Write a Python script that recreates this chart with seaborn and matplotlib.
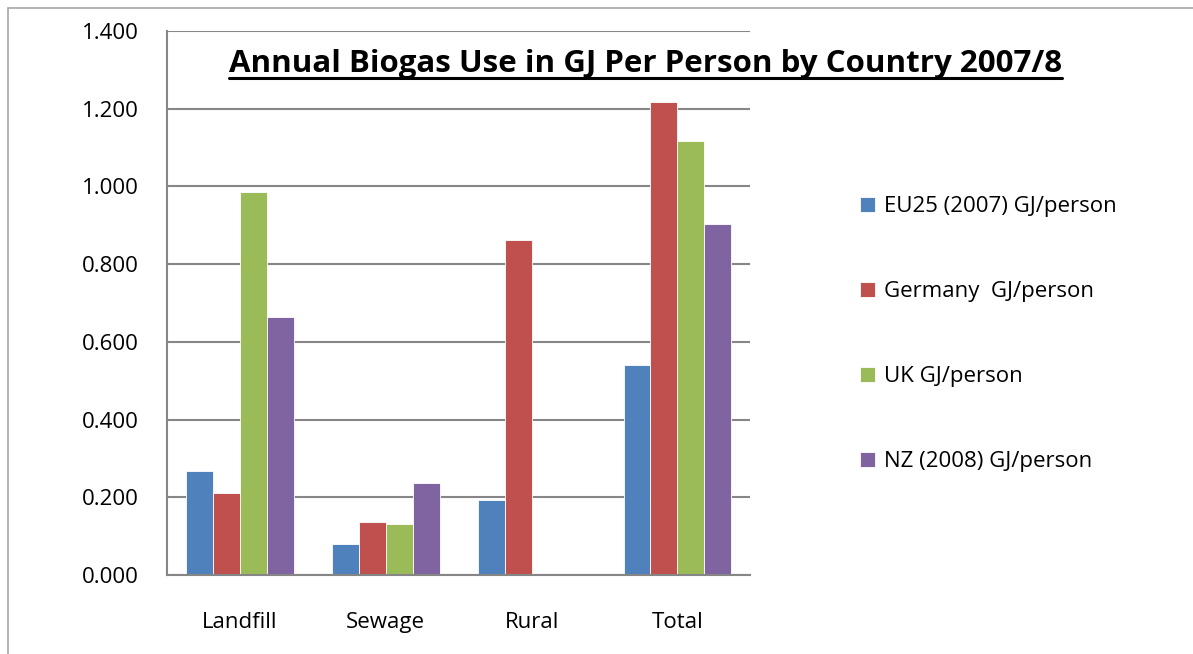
import pandas as pd
import seaborn as sns
import matplotlib.pyplot as plt
from matplotlib.patches import Rectangle
from matplotlib.lines import Line2D

# Dados
categorias = ["Landfill", "Sewage", "Rural", "Total"]
series = ["EU25 (2007) GJ/person", "Germany  GJ/person", "UK GJ/person", "NZ (2008) GJ/person"]
eu25 = [0.268, 0.080, 0.192, 0.540]
germany = [0.212, 0.136, 0.863, 1.217]
uk = [0.986, 0.130, 0.0, 1.118]
nz = [0.663, 0.238, 0.0, 0.904]
cores = ["#4F81BD", "#C0504D", "#9BBB59", "#8064A2"]
y_ticks = [0.0, 0.2, 0.4, 0.6, 0.8, 1.0, 1.2, 1.4]

df = pd.DataFrame({"Categoria": categorias, series[0]: eu25, series[1]: germany,
                   series[2]: uk, series[3]: nz})
dados = df.melt(id_vars="Categoria", var_name="Serie", value_name="Valor")

sns.set_style("white")
plt.rcParams["font.family"] = ["Open Sans", "DejaVu Sans"]
plt.rcParams["text.color"] = "black"
plt.rcParams["xtick.labelcolor"] = "black"
plt.rcParams["ytick.labelcolor"] = "black"

fig = plt.figure(figsize=(11.93, 6.54), dpi=100)
ax = fig.add_axes([0.140, 0.1208, 0.489, 0.8318])

sns.barplot(data=dados, x="Categoria", y="Valor", hue="Serie", hue_order=series,
            palette=cores, width=0.74, saturation=1, ax=ax, legend=True)

ax.set_ylim(0, 1.4)
ax.set_xlim(-0.5, 3.5)
ax.set_yticks(y_ticks)
ax.set_yticklabels([f"{v:.3f}" for v in y_ticks], fontsize=16)
ax.set_xticks(range(4))
ax.set_xticklabels(categorias, fontsize=16)
ax.set_xticks([-0.5, 0.5, 1.5, 2.5, 3.5], minor=True)
ax.tick_params(axis="x", which="major", length=0, pad=27)
ax.tick_params(axis="x", which="minor", length=6, color="#868686", width=1.2, direction="out")
ax.tick_params(axis="y", length=6, color="#868686", width=1.2, direction="out", pad=14)
ax.set_xlabel("")
ax.set_ylabel("")
ax.yaxis.grid(True, color="#868686", linewidth=1.5)
ax.set_axisbelow(True)
for lado in ["top", "right"]:
    ax.spines[lado].set_visible(False)
for lado in ["left", "bottom"]:
    ax.spines[lado].set_color("#868686")
    ax.spines[lado].set_linewidth(1.5)
for barra in ax.patches:
    barra.set_edgecolor("white")
    barra.set_linewidth(0.6)

handles, labels = ax.get_legend_handles_labels()
ax.get_legend().remove()
fig.legend(handles, labels, loc="center left", bbox_to_anchor=(0.704, 0.489),
           frameon=False, fontsize=16, handlelength=0.7, handleheight=0.7,
           handletextpad=0.4, labelspacing=2.88)

titulo = fig.text(0.541, 0.902, "Annual Biogas Use in GJ Per Person by Country 2007/8",
                  ha="center", va="center", fontsize=22.5, fontweight="bold", color="black")

# borda externa da área do gráfico
fig.patches.append(Rectangle((0.007, -0.05), 1.1, 1.038, transform=fig.transFigure,
                             fill=False, edgecolor="#A6A6A6", linewidth=1.2))

# sublinhado do título
fig.canvas.draw()
bb = titulo.get_window_extent().transformed(fig.transFigure.inverted())
fig.lines.append(Line2D([bb.x0, bb.x1], [bb.y0 + 0.002, bb.y0 + 0.002],
                        transform=fig.transFigure, color="black", linewidth=2.2))

plt.savefig("out.png", dpi=100)
